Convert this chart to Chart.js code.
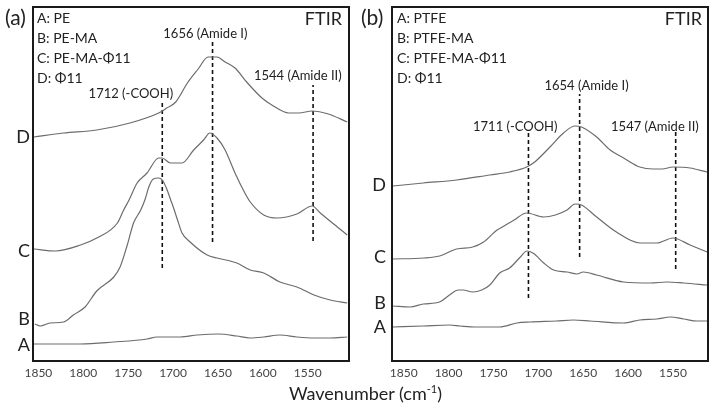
<!DOCTYPE html>
<html><head><meta charset="utf-8">
<script src="https://cdn.jsdelivr.net/npm/chart.js@4/dist/chart.umd.min.js"></script>
<style>
html,body{margin:0;padding:0;background:#fff;width:714px;height:410px;overflow:hidden;font-family:Lato,sans-serif;}
#pa{position:absolute;left:0;top:0;}
#pb{position:absolute;left:357px;top:0;}
#xt{position:absolute;left:0;width:731px;top:383px;text-align:center;font-size:18px;line-height:20px;color:#222;}
#xt sup{font-size:11px;line-height:0;vertical-align:7px;}
</style></head><body>
<canvas id="pa" width="357" height="410"></canvas>
<canvas id="pb" width="357" height="410"></canvas>
<div id="xt">Wavenumber (cm<sup>-1</sup>)</div>
<script>
// ---- tick labels / categories ----
const xTicks = [1850, 1800, 1750, 1700, 1650, 1600, 1550];
const traceLetters = ['A', 'B', 'C', 'D'];
const legendA = ['A: PE', 'B: PE-MA', 'C: PE-MA-Φ11', 'D: Φ11'];
const legendB = ['A: PTFE', 'B: PTFE-MA', 'C: PTFE-MA-Φ11', 'D: Φ11'];

// ---- panel (a) spectra (wavenumber, offset absorbance a.u.) ----
const aA_wn  = [1855,1803,1766,1729,1718,1692,1673,1649,1629,1614,1599,1581,1562,1543,1525,1506];
const aA_val = [17,17,19,22,24,24,26,27,25,23,24,26,24,23,23,24];
const aB_wn  = [1854,1848,1837,1822,1811,1798,1785,1766,1759,1751,1744,1736,1731,1727,1722,1716,1712,1707,1703,1699,1695,1690,1681,1662,1651,1629,1614,1599,1581,1562,1543,1525,1506];
const aB_val = [37,35,38,39,46,54,70,84,94,116,138,151,162,174,182,183,181,172,162,152,141,128,119,106,103,98,91,88,79,74,66,61,58];
const aC_wn  = [1855,1831,1803,1785,1762,1755,1749,1740,1729,1716,1712,1703,1690,1677,1666,1659,1651,1642,1631,1620,1614,1599,1584,1562,1545,1536,1517,1506];
const aC_val = [112,110,116,123,138,151,161,178,188,203,203,198,198,211,221,228,223,211,188,168,159,146,143,147,155,148,134,126];
const aD_wn  = [1855,1822,1785,1748,1716,1707,1697,1684,1672,1661,1651,1642,1631,1618,1612,1601,1590,1571,1560,1545,1527,1506];
const aD_val = [224,228,231,238,248,253,259,278,292,304,304,299,293,279,273,263,256,248,248,250,247,239];

// ---- panel (b) spectra ----
const bA_wn  = [1862,1828,1799,1787,1769,1743,1724,1709,1680,1661,1642,1605,1587,1568,1553,1538,1523,1512];
const bA_val = [34,35,36,35,34,34,38,39,40,41,40,38,41,42,44,42,40,40];
const bB_wn  = [1862,1843,1828,1810,1799,1789,1784,1773,1763,1754,1743,1732,1720,1713,1706,1694,1683,1668,1657,1650,1635,1605,1575,1557,1538,1512];
const bB_val = [55,54,57,59,66,71,71,69,71,76,88,93,104,110,108,98,91,89,87,89,86,79,78,79,78,76];
const bC_wn  = [1862,1828,1810,1791,1773,1761,1746,1742,1727,1713,1694,1681,1668,1659,1652,1635,1613,1587,1568,1550,1531,1512];
const bC_val = [102,103,105,112,114,119,131,133,141,148,144,146,151,157,156,144,129,118,118,123,116,109];
const bD_wn  = [1862,1828,1791,1754,1732,1713,1704,1687,1672,1659,1652,1635,1620,1605,1587,1572,1562,1550,1531,1512];
const bD_val = [175,178,181,186,189,194,199,214,228,235,234,224,211,203,194,192,192,194,193,189];

// ---- peak markers ----
const peakWnA   = [1712, 1656, 1544];
const peakNameA = ['(-COOH)', '(Amide I)', '(Amide II)'];
const peakLoA   = [93, 119, 120];
const peakHiA   = [259, 321, 276];
const peakWnB   = [1711, 1654, 1547];
const peakNameB = ['(-COOH)', '(Amide I)', '(Amide II)'];
const peakLoB   = [63, 104, 92];
const peakHiB   = [230, 267, 230];

// baseline level of each trace (where its letter sits)
const letterLevelA = [16, 42, 110, 224];
const letterLevelB = [34, 58, 104, 176];

function pts(wn, val) { return wn.map((w, i) => ({ x: w, y: val[i] })); }

function makeDeco(cfg) {
  return {
    id: 'deco_' + cfg.id,
    afterDraw(chart) {
      const ctx = chart.ctx, a = chart.chartArea, xs = chart.scales.x, ys = chart.scales.y;
      ctx.save();
      ctx.strokeStyle = '#1a1a1a'; ctx.lineWidth = 2;
      ctx.strokeRect(a.left, a.top, a.right - a.left, a.bottom - a.top);
      ctx.fillStyle = '#222'; ctx.textBaseline = 'middle';
      ctx.font = '14px Lato'; ctx.textAlign = 'left';
      cfg.legend.forEach((t, i) => ctx.fillText(t, a.left + cfg.legendDx, 18 + i * 20.3));
      ctx.font = '18px Lato'; ctx.textAlign = 'right';
      ctx.fillText('FTIR', a.right - cfg.ftirDx, 19);
      ctx.font = '21px Lato'; ctx.textAlign = 'left';
      ctx.fillText(cfg.tag, cfg.tagX, 18);
      ctx.font = '13px Lato'; ctx.textAlign = 'center';
      cfg.peakWn.forEach((w, i) => {
        const p = cfg.labelAt[i];
        ctx.fillText(w + ' ' + cfg.peakName[i], xs.getPixelForValue(p[0]), ys.getPixelForValue(p[1]));
      });
      ctx.restore();
    }
  };
}

function buildPanel(cfg) {
  const datasets = [];
  cfg.traces.forEach(t => datasets.push({
    data: pts(t[0], t[1]), borderColor: '#6c6c6c', borderWidth: 1.2,
    pointRadius: 0, cubicInterpolationMode: 'monotone', fill: false
  }));
  cfg.peakWn.forEach((w, i) => datasets.push({
    data: [{ x: w, y: cfg.peakLo[i] }, { x: w, y: cfg.peakHi[i] }],
    borderColor: '#111', borderWidth: 1.6, borderDash: [4, 3], pointRadius: 0, fill: false
  }));
  new Chart(document.getElementById(cfg.id), {
    type: 'line',
    data: { datasets },
    options: {
      responsive: false, animation: false, events: [],
      layout: { padding: { top: 7, right: cfg.padRight, left: 0, bottom: 0 } },
      plugins: { legend: { display: false }, tooltip: { enabled: false } },
      scales: {
        x: {
          type: 'linear', reverse: true, min: cfg.xmin, max: cfg.xmax,
          afterBuildTicks: s => { s.ticks = xTicks.map(v => ({ value: v })); },
          afterFit: s => { s.height = 49; s.paddingLeft = 0; s.paddingRight = 0; },
          grid: { display: false, drawTicks: false }, border: { display: false },
          ticks: { padding: 5, color: '#444', font: { family: 'Lato', size: 12 }, maxRotation: 0, autoSkip: false,
                   callback: (v) => String(v) }
        },
        y: {
          type: 'linear', min: 0, max: 354,
          afterBuildTicks: s => { s.ticks = cfg.letterLevels.map(v => ({ value: v })); },
          afterFit: s => { s.width = cfg.yWidth; s.paddingTop = 0; s.paddingBottom = 0; },
          grid: { display: false, drawTicks: false }, border: { display: false },
          ticks: { padding: cfg.letterPad, color: '#222', font: { family: 'Lato', size: 18 }, autoSkip: false,
                   callback: (v, i) => traceLetters[i] }
        }
      }
    },
    plugins: [makeDeco(cfg)]
  });
}

function go() {
  buildPanel({
    id: 'pa', xmin: 1504, xmax: 1856, yWidth: 33, padRight: 8, letterPad: 3,
    traces: [[aA_wn, aA_val], [aB_wn, aB_val], [aC_wn, aC_val], [aD_wn, aD_val]],
    peakWn: peakWnA, peakName: peakNameA, peakLo: peakLoA, peakHi: peakHiA,
    labelAt: [[1747, 267], [1664, 327], [1561, 285]],
    letterLevels: letterLevelA, legend: legendA, legendDx: 4, ftirDx: 7, tag: '(a)', tagX: 5
  });
  buildPanel({
    id: 'pb', xmin: 1511, xmax: 1863, yWidth: 35, padRight: 6, letterPad: 6,
    traces: [[bA_wn, bA_val], [bB_wn, bB_val], [bC_wn, bC_val], [bD_wn, bD_val]],
    peakWn: peakWnB, peakName: peakNameB, peakLo: peakLoB, peakHi: peakHiB,
    labelAt: [[1725.7, 234.3], [1646.3, 275], [1570.1, 234]],
    letterLevels: letterLevelB, legend: legendB, legendDx: 5, ftirDx: 6, tag: '(b)', tagX: 4
  });
}
let started = false;
function start() { if (!started) { started = true; go(); } }
if (document.fonts && document.fonts.load) {
  Promise.all(['12px Lato', '14px Lato', '18px Lato'].map(f => document.fonts.load(f))).then(start, start);
  setTimeout(start, 800);
} else { start(); }
</script>
</body></html>
